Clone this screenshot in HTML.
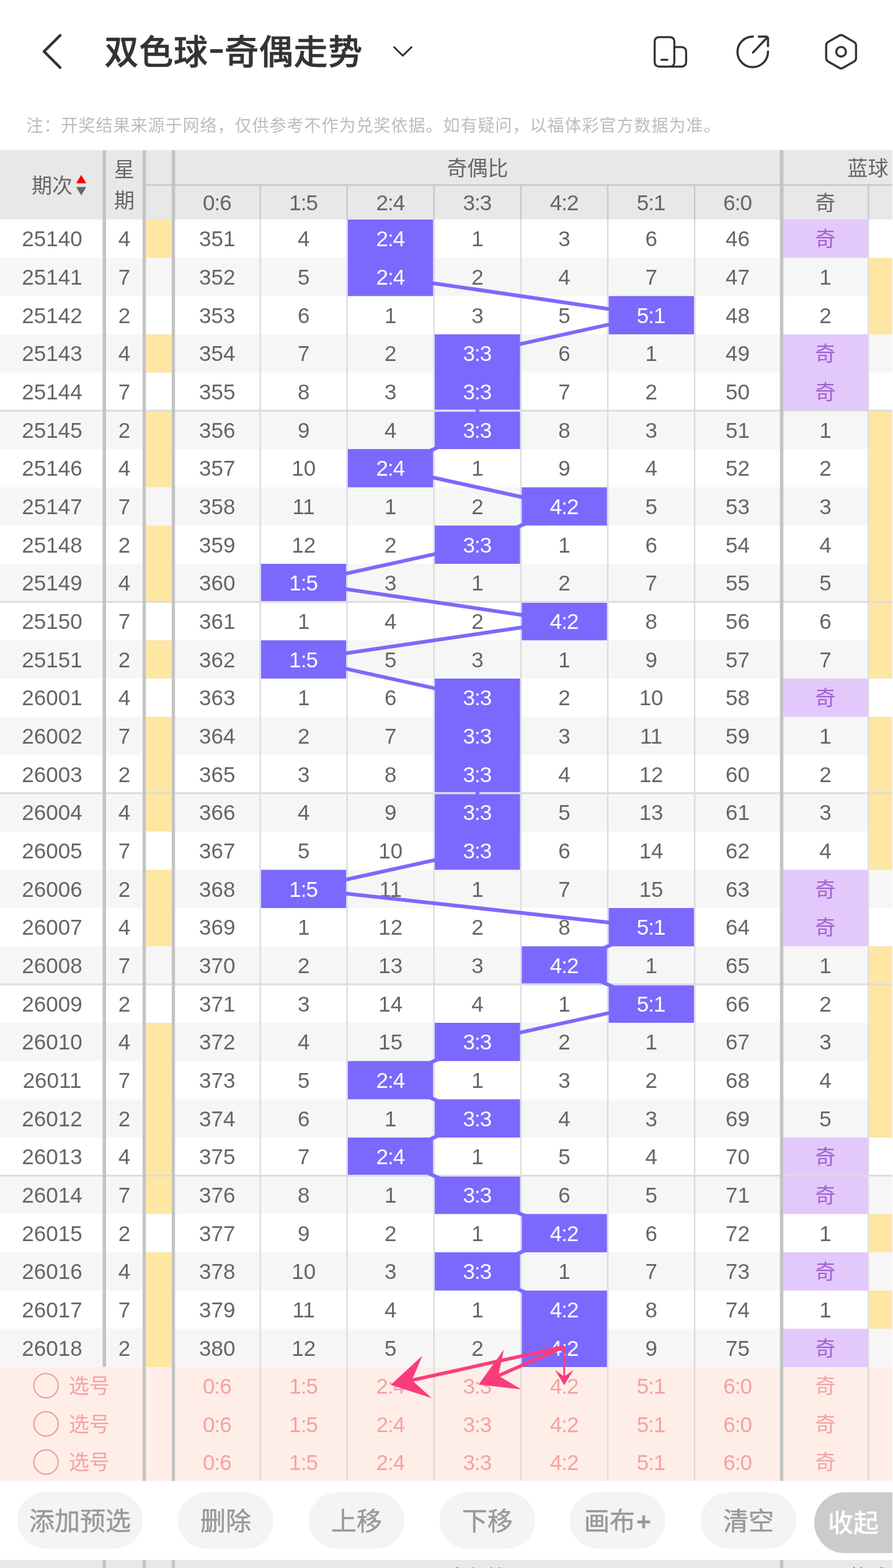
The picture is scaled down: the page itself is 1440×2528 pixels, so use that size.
<!DOCTYPE html>
<html lang="zh-CN">
<head>
<meta charset="utf-8">
<title>双色球-奇偶走势</title>
<style>
html,body{margin:0;padding:0;background:#fff}
body{width:1440px;height:2528px;overflow:hidden;position:relative;font-family:"Liberation Sans","Noto Sans CJK SC",sans-serif}
#page{position:absolute;left:0;top:0;width:1440px;height:2528px;overflow:hidden;background:#fff}
.b{position:absolute}
.ov{position:absolute;left:0;top:0;pointer-events:none}
.t{position:absolute;box-sizing:border-box;padding-top:0;display:flex;align-items:center;justify-content:center;white-space:nowrap;color:#666;font-size:33px;line-height:1}
.n{font-size:35px}
.c{padding-top:2px}
.r{letter-spacing:-1px;text-indent:-1px}
.h{color:#666}
.w{color:#fff;z-index:3}
.tr{z-index:2}
.ar{z-index:4}
.o{color:#a162d0}
.s{color:#f3a3a3}
.btn{background:#f3f4f5;border-radius:46px;color:#999;font-size:41px;padding-top:4px;-webkit-text-stroke:0.5px #999}
.btn2{background:#cbcbcb;border-radius:49px;color:#fff;font-size:41px;font-weight:500;justify-content:flex-start;padding-top:2px}
#title{position:absolute;left:168.5px;top:43px;letter-spacing:0.8px;-webkit-text-stroke:0.6px #333;height:82px;line-height:82px;font-size:55px;font-weight:500;color:#333;white-space:nowrap}
#note{position:absolute;left:42.5px;top:183px;height:40px;line-height:40px;font-size:27px;letter-spacing:1px;color:#bdbdbd;white-space:nowrap}
</style>
</head>
<body>
<div id="page">
<svg class="ov" width="1440" height="170" viewBox="0 0 1440 170" fill="none" stroke="#333" stroke-linecap="round" stroke-linejoin="round">
<path d="M97 57 L71 83 L97 109" stroke-width="4.4"/>
<path d="M635.5 76 L649.5 89.8 L663.5 76" stroke-width="3"/>
<rect x="1055.7" y="59.8" width="31.7" height="47.6" rx="6.8" stroke-width="3.3"/>
<path d="M1087.4 75.8 H1099.2 a7.2 7.2 0 0 1 7.2 7.2 V100.2 a7.2 7.2 0 0 1 -7.2 7.2 H1080" stroke-width="3.3"/>
<path d="M1066.6 96.4 H1076.2" stroke-width="3.3"/>
<path d="M1214 59 A24.6 24.6 0 1 0 1238.4 83" stroke-width="3.5"/>
<path d="M1214.2 84.6 L1237 60.6 M1223.6 59 H1235.4 a3 3 0 0 1 3 3 V74.4" stroke-width="3.5"/>
<path d="M1353.05 57.48 A6.50 6.50 0 0 1 1359.55 57.48 L1377.13 67.62 A6.50 6.50 0 0 1 1380.38 73.25 L1380.38 93.55 A6.50 6.50 0 0 1 1377.13 99.18 L1359.55 109.32 A6.50 6.50 0 0 1 1353.05 109.32 L1335.47 99.18 A6.50 6.50 0 0 1 1332.22 93.55 L1332.22 73.25 A6.50 6.50 0 0 1 1335.47 67.62 Z" stroke-width="3.4"/>
<circle cx="1356.3" cy="83.4" r="7.8" stroke-width="3.4"/>
</svg>
<div id="title">双色球<span style="display:inline-block;width:26px;text-align:center;font-weight:700;line-height:40px;letter-spacing:0;position:relative;top:-5px;transform:scale(1.4,0.8)">-</span>奇偶走势</div>
<div id="note">注：开奖结果来源于网络，仅供参考不作为兑奖依据。如有疑问，以福体彩官方数据为准。</div>
<svg class="ov" width="1440" height="2528" viewBox="0 0 1440 2528">
<rect x="0" y="242" width="1440" height="112" fill="#e8e8e8"/>
<rect x="0" y="415.67" width="1440" height="61.67" fill="#f6f6f6"/>
<rect x="0" y="539" width="1440" height="61.67" fill="#f6f6f6"/>
<rect x="0" y="662.33" width="1440" height="61.67" fill="#f6f6f6"/>
<rect x="0" y="785.67" width="1440" height="61.67" fill="#f6f6f6"/>
<rect x="0" y="909" width="1440" height="61.67" fill="#f6f6f6"/>
<rect x="0" y="1032.33" width="1440" height="61.67" fill="#f6f6f6"/>
<rect x="0" y="1155.67" width="1440" height="61.67" fill="#f6f6f6"/>
<rect x="0" y="1279" width="1440" height="61.67" fill="#f6f6f6"/>
<rect x="0" y="1402.33" width="1440" height="61.67" fill="#f6f6f6"/>
<rect x="0" y="1525.67" width="1440" height="61.67" fill="#f6f6f6"/>
<rect x="0" y="1649" width="1440" height="61.67" fill="#f6f6f6"/>
<rect x="0" y="1772.33" width="1440" height="61.67" fill="#f6f6f6"/>
<rect x="0" y="1895.67" width="1440" height="61.67" fill="#f6f6f6"/>
<rect x="0" y="2019" width="1440" height="61.67" fill="#f6f6f6"/>
<rect x="0" y="2142.33" width="1440" height="61.67" fill="#f6f6f6"/>
<rect x="0" y="2203.6" width="1440" height="183.9" fill="#ffeee8"/>
<rect x="235.2" y="354" width="41.8" height="61.67" fill="#fee6a3"/>
<rect x="235.2" y="539" width="41.8" height="61.67" fill="#fee6a3"/>
<rect x="235.2" y="662.33" width="41.8" height="123.33" fill="#fee6a3"/>
<rect x="235.2" y="847.33" width="41.8" height="123.33" fill="#fee6a3"/>
<rect x="235.2" y="1032.33" width="41.8" height="61.67" fill="#fee6a3"/>
<rect x="235.2" y="1155.67" width="41.8" height="185" fill="#fee6a3"/>
<rect x="235.2" y="1402.33" width="41.8" height="123.33" fill="#fee6a3"/>
<rect x="235.2" y="1649" width="41.8" height="308.33" fill="#fee6a3"/>
<rect x="235.2" y="2019" width="41.8" height="185" fill="#fee6a3"/>
<rect x="1263.2" y="354" width="135.8" height="61.67" fill="#e3c8fc"/>
<rect x="1263.2" y="539" width="135.8" height="123.33" fill="#e3c8fc"/>
<rect x="1263.2" y="1094" width="135.8" height="61.67" fill="#e3c8fc"/>
<rect x="1263.2" y="1402.33" width="135.8" height="123.33" fill="#e3c8fc"/>
<rect x="1263.2" y="1834" width="135.8" height="123.33" fill="#e3c8fc"/>
<rect x="1263.2" y="2019" width="135.8" height="61.67" fill="#e3c8fc"/>
<rect x="1263.2" y="2142.33" width="135.8" height="61.67" fill="#e3c8fc"/>
<rect x="560.92" y="354" width="137.72" height="123.33" fill="#7b69fd"/>
<rect x="560.92" y="724" width="137.72" height="61.67" fill="#7b69fd"/>
<rect x="560.92" y="1710.67" width="137.72" height="61.67" fill="#7b69fd"/>
<rect x="560.92" y="1834" width="137.72" height="61.67" fill="#7b69fd"/>
<rect x="1401.8" y="415.67" width="37.2" height="123.33" fill="#fee6a3"/>
<rect x="1401.8" y="662.33" width="37.2" height="431.67" fill="#fee6a3"/>
<rect x="1401.8" y="1155.67" width="37.2" height="246.67" fill="#fee6a3"/>
<rect x="1401.8" y="1525.67" width="37.2" height="308.33" fill="#fee6a3"/>
<rect x="1401.8" y="1957.33" width="37.2" height="61.67" fill="#fee6a3"/>
<rect x="1401.8" y="2080.67" width="37.2" height="61.67" fill="#fee6a3"/>
<rect x="981.28" y="477.33" width="137.72" height="61.67" fill="#7b69fd"/>
<rect x="981.28" y="1464" width="137.72" height="61.67" fill="#7b69fd"/>
<rect x="981.28" y="1587.33" width="137.72" height="61.67" fill="#7b69fd"/>
<rect x="701.04" y="539" width="137.72" height="185" fill="#7b69fd"/>
<rect x="701.04" y="847.33" width="137.72" height="61.67" fill="#7b69fd"/>
<rect x="701.04" y="1094" width="137.72" height="308.33" fill="#7b69fd"/>
<rect x="701.04" y="1649" width="137.72" height="61.67" fill="#7b69fd"/>
<rect x="701.04" y="1772.33" width="137.72" height="61.67" fill="#7b69fd"/>
<rect x="701.04" y="1895.67" width="137.72" height="61.67" fill="#7b69fd"/>
<rect x="701.04" y="2019" width="137.72" height="61.67" fill="#7b69fd"/>
<rect x="841.16" y="785.67" width="137.72" height="61.67" fill="#7b69fd"/>
<rect x="841.16" y="970.67" width="137.72" height="61.67" fill="#7b69fd"/>
<rect x="841.16" y="1525.67" width="137.72" height="61.67" fill="#7b69fd"/>
<rect x="841.16" y="1957.33" width="137.72" height="61.67" fill="#7b69fd"/>
<rect x="841.16" y="2080.67" width="137.72" height="123.33" fill="#7b69fd"/>
<rect x="420.8" y="909" width="137.72" height="61.67" fill="#7b69fd"/>
<rect x="420.8" y="1032.33" width="137.72" height="61.67" fill="#7b69fd"/>
<rect x="420.8" y="1402.33" width="137.72" height="61.67" fill="#7b69fd"/>
<rect x="0" y="660.63" width="1440" height="2.9" fill="#dcdcdc"/>
<rect x="701.04" y="660.63" width="137.72" height="2.9" fill="#dddaf6"/>
<rect x="701.04" y="660.63" width="137.72" height="2.9" fill="#dddaf6"/>
<rect x="0" y="968.97" width="1440" height="2.9" fill="#dcdcdc"/>
<rect x="420.8" y="968.97" width="137.72" height="2.9" fill="#dddaf6"/>
<rect x="841.16" y="968.97" width="137.72" height="2.9" fill="#dddaf6"/>
<rect x="0" y="1277.3" width="1440" height="2.9" fill="#dcdcdc"/>
<rect x="701.04" y="1277.3" width="137.72" height="2.9" fill="#dddaf6"/>
<rect x="701.04" y="1277.3" width="137.72" height="2.9" fill="#dddaf6"/>
<rect x="0" y="1585.63" width="1440" height="2.9" fill="#dcdcdc"/>
<rect x="841.16" y="1585.63" width="137.72" height="2.9" fill="#dddaf6"/>
<rect x="981.28" y="1585.63" width="137.72" height="2.9" fill="#dddaf6"/>
<rect x="0" y="1893.97" width="1440" height="2.9" fill="#dcdcdc"/>
<rect x="560.92" y="1893.97" width="137.72" height="2.9" fill="#dddaf6"/>
<rect x="701.04" y="1893.97" width="137.72" height="2.9" fill="#dddaf6"/>
<rect x="418.4" y="298.3" width="2.4" height="55.7" fill="#c9c9c9"/>
<rect x="418.4" y="354" width="2.4" height="1849.6" fill="#dcdcdc"/>
<rect x="418.4" y="2203.6" width="2.4" height="183.9" fill="#dfdad7"/>
<rect x="558.52" y="298.3" width="2.4" height="55.7" fill="#c9c9c9"/>
<rect x="558.52" y="354" width="2.4" height="1849.6" fill="#dcdcdc"/>
<rect x="558.52" y="2203.6" width="2.4" height="183.9" fill="#dfdad7"/>
<rect x="698.64" y="298.3" width="2.4" height="55.7" fill="#c9c9c9"/>
<rect x="698.64" y="354" width="2.4" height="1849.6" fill="#dcdcdc"/>
<rect x="698.64" y="2203.6" width="2.4" height="183.9" fill="#dfdad7"/>
<rect x="838.76" y="298.3" width="2.4" height="55.7" fill="#c9c9c9"/>
<rect x="838.76" y="354" width="2.4" height="1849.6" fill="#dcdcdc"/>
<rect x="838.76" y="2203.6" width="2.4" height="183.9" fill="#dfdad7"/>
<rect x="978.88" y="298.3" width="2.4" height="55.7" fill="#c9c9c9"/>
<rect x="978.88" y="354" width="2.4" height="1849.6" fill="#dcdcdc"/>
<rect x="978.88" y="2203.6" width="2.4" height="183.9" fill="#dfdad7"/>
<rect x="1119" y="298.3" width="2.4" height="55.7" fill="#c9c9c9"/>
<rect x="1119" y="354" width="2.4" height="1849.6" fill="#dcdcdc"/>
<rect x="1119" y="2203.6" width="2.4" height="183.9" fill="#dfdad7"/>
<rect x="1399.1" y="298.3" width="2.4" height="55.7" fill="#c9c9c9"/>
<rect x="1399.1" y="354" width="2.4" height="1849.6" fill="#dcdcdc"/>
<rect x="1399.1" y="2203.6" width="2.4" height="183.9" fill="#dfdad7"/>
<rect x="558.52" y="354" width="2.4" height="61.67" fill="#dddaf6"/>
<rect x="698.64" y="354" width="2.4" height="61.67" fill="#dddaf6"/>
<rect x="558.52" y="415.67" width="2.4" height="61.67" fill="#dddaf6"/>
<rect x="698.64" y="415.67" width="2.4" height="61.67" fill="#dddaf6"/>
<rect x="978.88" y="477.33" width="2.4" height="61.67" fill="#dddaf6"/>
<rect x="1119" y="477.33" width="2.4" height="61.67" fill="#dddaf6"/>
<rect x="698.64" y="539" width="2.4" height="61.67" fill="#dddaf6"/>
<rect x="838.76" y="539" width="2.4" height="61.67" fill="#dddaf6"/>
<rect x="698.64" y="600.67" width="2.4" height="61.67" fill="#dddaf6"/>
<rect x="838.76" y="600.67" width="2.4" height="61.67" fill="#dddaf6"/>
<rect x="698.64" y="662.33" width="2.4" height="61.67" fill="#dddaf6"/>
<rect x="838.76" y="662.33" width="2.4" height="61.67" fill="#dddaf6"/>
<rect x="558.52" y="724" width="2.4" height="61.67" fill="#dddaf6"/>
<rect x="698.64" y="724" width="2.4" height="61.67" fill="#dddaf6"/>
<rect x="838.76" y="785.67" width="2.4" height="61.67" fill="#dddaf6"/>
<rect x="978.88" y="785.67" width="2.4" height="61.67" fill="#dddaf6"/>
<rect x="698.64" y="847.33" width="2.4" height="61.67" fill="#dddaf6"/>
<rect x="838.76" y="847.33" width="2.4" height="61.67" fill="#dddaf6"/>
<rect x="418.4" y="909" width="2.4" height="61.67" fill="#dddaf6"/>
<rect x="558.52" y="909" width="2.4" height="61.67" fill="#dddaf6"/>
<rect x="838.76" y="970.67" width="2.4" height="61.67" fill="#dddaf6"/>
<rect x="978.88" y="970.67" width="2.4" height="61.67" fill="#dddaf6"/>
<rect x="418.4" y="1032.33" width="2.4" height="61.67" fill="#dddaf6"/>
<rect x="558.52" y="1032.33" width="2.4" height="61.67" fill="#dddaf6"/>
<rect x="698.64" y="1094" width="2.4" height="61.67" fill="#dddaf6"/>
<rect x="838.76" y="1094" width="2.4" height="61.67" fill="#dddaf6"/>
<rect x="698.64" y="1155.67" width="2.4" height="61.67" fill="#dddaf6"/>
<rect x="838.76" y="1155.67" width="2.4" height="61.67" fill="#dddaf6"/>
<rect x="698.64" y="1217.33" width="2.4" height="61.67" fill="#dddaf6"/>
<rect x="838.76" y="1217.33" width="2.4" height="61.67" fill="#dddaf6"/>
<rect x="698.64" y="1279" width="2.4" height="61.67" fill="#dddaf6"/>
<rect x="838.76" y="1279" width="2.4" height="61.67" fill="#dddaf6"/>
<rect x="698.64" y="1340.67" width="2.4" height="61.67" fill="#dddaf6"/>
<rect x="838.76" y="1340.67" width="2.4" height="61.67" fill="#dddaf6"/>
<rect x="418.4" y="1402.33" width="2.4" height="61.67" fill="#dddaf6"/>
<rect x="558.52" y="1402.33" width="2.4" height="61.67" fill="#dddaf6"/>
<rect x="978.88" y="1464" width="2.4" height="61.67" fill="#dddaf6"/>
<rect x="1119" y="1464" width="2.4" height="61.67" fill="#dddaf6"/>
<rect x="838.76" y="1525.67" width="2.4" height="61.67" fill="#dddaf6"/>
<rect x="978.88" y="1525.67" width="2.4" height="61.67" fill="#dddaf6"/>
<rect x="978.88" y="1587.33" width="2.4" height="61.67" fill="#dddaf6"/>
<rect x="1119" y="1587.33" width="2.4" height="61.67" fill="#dddaf6"/>
<rect x="698.64" y="1649" width="2.4" height="61.67" fill="#dddaf6"/>
<rect x="838.76" y="1649" width="2.4" height="61.67" fill="#dddaf6"/>
<rect x="558.52" y="1710.67" width="2.4" height="61.67" fill="#dddaf6"/>
<rect x="698.64" y="1710.67" width="2.4" height="61.67" fill="#dddaf6"/>
<rect x="698.64" y="1772.33" width="2.4" height="61.67" fill="#dddaf6"/>
<rect x="838.76" y="1772.33" width="2.4" height="61.67" fill="#dddaf6"/>
<rect x="558.52" y="1834" width="2.4" height="61.67" fill="#dddaf6"/>
<rect x="698.64" y="1834" width="2.4" height="61.67" fill="#dddaf6"/>
<rect x="698.64" y="1895.67" width="2.4" height="61.67" fill="#dddaf6"/>
<rect x="838.76" y="1895.67" width="2.4" height="61.67" fill="#dddaf6"/>
<rect x="838.76" y="1957.33" width="2.4" height="61.67" fill="#dddaf6"/>
<rect x="978.88" y="1957.33" width="2.4" height="61.67" fill="#dddaf6"/>
<rect x="698.64" y="2019" width="2.4" height="61.67" fill="#dddaf6"/>
<rect x="838.76" y="2019" width="2.4" height="61.67" fill="#dddaf6"/>
<rect x="838.76" y="2080.67" width="2.4" height="61.67" fill="#dddaf6"/>
<rect x="978.88" y="2080.67" width="2.4" height="61.67" fill="#dddaf6"/>
<rect x="838.76" y="2142.33" width="2.4" height="61.67" fill="#dddaf6"/>
<rect x="978.88" y="2142.33" width="2.4" height="61.67" fill="#dddaf6"/>
<rect x="165.5" y="242" width="5.5" height="1961.6" fill="#c3c3c3"/>
<rect x="230" y="242" width="5.2" height="2145.5" fill="#c3c3c3"/>
<rect x="277" y="242" width="5.2" height="2145.5" fill="#c3c3c3"/>
<rect x="1257.7" y="242" width="5.5" height="2145.5" fill="#c3c3c3"/>
<rect x="235.2" y="297" width="1204.8" height="2.6" fill="#c9c9c9"/>
<rect x="277" y="242" width="5.2" height="112" fill="#c3c3c3"/>
<rect x="1257.7" y="242" width="5.5" height="112" fill="#c3c3c3"/>
<rect x="0" y="2515" width="1440" height="13" fill="#e8e8e8"/>
<rect x="165.5" y="2515" width="5.5" height="13" fill="#c3c3c3"/>
<rect x="230" y="2515" width="5.2" height="13" fill="#c3c3c3"/>
<rect x="277" y="2515" width="5.2" height="13" fill="#c3c3c3"/>
<rect x="1257.7" y="2515" width="5.5" height="13" fill="#c3c3c3"/>
<circle cx="74.2" cy="2234.1" r="19.6" fill="none" stroke="#ee9d9d" stroke-width="2.2"/>
<circle cx="74.2" cy="2295.65" r="19.6" fill="none" stroke="#ee9d9d" stroke-width="2.2"/>
<circle cx="74.2" cy="2357.2" r="19.6" fill="none" stroke="#ee9d9d" stroke-width="2.2"/>
</svg>
<!-- header band -->
<!-- row stripes -->
<!-- fills -->
<!-- separators -->
<div class="t h c" style="left:282.2px;top:2514.5px;width:975.5px;height:56.3px;">奇偶比</div>
<div class="t h c" style="left:1263.2px;top:2514.5px;width:272.8px;height:56.3px;">蓝球</div>
<svg class="ov tr" width="1440" height="2528" viewBox="0 0 1440 2528">
<path d="M629.78 384.83 L629.78 446.5 L1050.14 508.17 L769.9 569.83 L769.9 631.5 L769.9 693.17 L629.78 754.83 L910.02 816.5 L769.9 878.17 L489.66 939.83 L910.02 1001.5 L489.66 1063.17 L769.9 1124.83 L769.9 1186.5 L769.9 1248.17 L769.9 1309.83 L769.9 1371.5 L489.66 1433.17 L1050.14 1494.83 L910.02 1556.5 L1050.14 1618.17 L769.9 1679.83 L629.78 1741.5 L769.9 1803.17 L629.78 1864.83 L769.9 1926.5 L910.02 1988.17 L769.9 2049.83 L910.02 2111.5 L910.02 2173.17" fill="none" stroke="#7b69fd" stroke-width="6" stroke-linejoin="round"/>
</svg>
<!-- header text -->
<div class="t h c" style="left:51px;top:242px;width:114.5px;height:112px;justify-content:flex-start">期次</div>
<svg class="b" width="18" height="34" viewBox="0 0 18 34" style="left:122.2px;top:281.8px"><path d="M9 0 L17.2 13.6 H0.8 Z" fill="#f00"/><path d="M0.8 19.6 H17.2 L9 33 Z" fill="#666"/></svg>
<div class="t h c" style="left:171px;top:242px;width:59px;height:112px;line-height:50px;flex-direction:column"><span>星</span><span>期</span></div>
<div class="t h c" style="left:282.2px;top:242px;width:975.5px;height:56.3px;">奇偶比</div>
<div class="t h c" style="left:1263.2px;top:242px;width:272.8px;height:56.3px;">蓝球</div>
<div class="t h n r" style="left:282.2px;top:298.3px;width:136.2px;height:55.7px;">0:6</div>
<div class="t h n r" style="left:420.8px;top:298.3px;width:137.72px;height:55.7px;">1:5</div>
<div class="t h n r" style="left:560.92px;top:298.3px;width:137.72px;height:55.7px;">2:4</div>
<div class="t h n r" style="left:701.04px;top:298.3px;width:137.72px;height:55.7px;">3:3</div>
<div class="t h n r" style="left:841.16px;top:298.3px;width:137.72px;height:55.7px;">4:2</div>
<div class="t h n r" style="left:981.28px;top:298.3px;width:137.72px;height:55.7px;">5:1</div>
<div class="t h n r" style="left:1121.4px;top:298.3px;width:136.3px;height:55.7px;">6:0</div>
<div class="t h c" style="left:1263.2px;top:298.3px;width:135.8px;height:55.7px;">奇</div>
<!-- body text -->
<div class="t n" style="left:0px;top:354px;width:168px;height:61.67px;">25140</div>
<div class="t n" style="left:171px;top:354px;width:59px;height:61.67px;">4</div>
<div class="t n" style="left:282.2px;top:354px;width:136.2px;height:61.67px;">351</div>
<div class="t n" style="left:420.8px;top:354px;width:137.72px;height:61.67px;">4</div>
<div class="t n w r" style="left:560.92px;top:354px;width:137.72px;height:61.67px;">2:4</div>
<div class="t n" style="left:701.04px;top:354px;width:137.72px;height:61.67px;">1</div>
<div class="t n" style="left:841.16px;top:354px;width:137.72px;height:61.67px;">3</div>
<div class="t n" style="left:981.28px;top:354px;width:137.72px;height:61.67px;">6</div>
<div class="t n" style="left:1121.4px;top:354px;width:136.3px;height:61.67px;">46</div>
<div class="t o c" style="left:1263.2px;top:354px;width:135.8px;height:61.67px;">奇</div>
<div class="t n" style="left:0px;top:415.67px;width:168px;height:61.67px;">25141</div>
<div class="t n" style="left:171px;top:415.67px;width:59px;height:61.67px;">7</div>
<div class="t n" style="left:282.2px;top:415.67px;width:136.2px;height:61.67px;">352</div>
<div class="t n" style="left:420.8px;top:415.67px;width:137.72px;height:61.67px;">5</div>
<div class="t n w r" style="left:560.92px;top:415.67px;width:137.72px;height:61.67px;">2:4</div>
<div class="t n" style="left:701.04px;top:415.67px;width:137.72px;height:61.67px;">2</div>
<div class="t n" style="left:841.16px;top:415.67px;width:137.72px;height:61.67px;">4</div>
<div class="t n" style="left:981.28px;top:415.67px;width:137.72px;height:61.67px;">7</div>
<div class="t n" style="left:1121.4px;top:415.67px;width:136.3px;height:61.67px;">47</div>
<div class="t n" style="left:1263.2px;top:415.67px;width:135.8px;height:61.67px;">1</div>
<div class="t n" style="left:0px;top:477.33px;width:168px;height:61.67px;">25142</div>
<div class="t n" style="left:171px;top:477.33px;width:59px;height:61.67px;">2</div>
<div class="t n" style="left:282.2px;top:477.33px;width:136.2px;height:61.67px;">353</div>
<div class="t n" style="left:420.8px;top:477.33px;width:137.72px;height:61.67px;">6</div>
<div class="t n" style="left:560.92px;top:477.33px;width:137.72px;height:61.67px;">1</div>
<div class="t n" style="left:701.04px;top:477.33px;width:137.72px;height:61.67px;">3</div>
<div class="t n" style="left:841.16px;top:477.33px;width:137.72px;height:61.67px;">5</div>
<div class="t n w r" style="left:981.28px;top:477.33px;width:137.72px;height:61.67px;">5:1</div>
<div class="t n" style="left:1121.4px;top:477.33px;width:136.3px;height:61.67px;">48</div>
<div class="t n" style="left:1263.2px;top:477.33px;width:135.8px;height:61.67px;">2</div>
<div class="t n" style="left:0px;top:539px;width:168px;height:61.67px;">25143</div>
<div class="t n" style="left:171px;top:539px;width:59px;height:61.67px;">4</div>
<div class="t n" style="left:282.2px;top:539px;width:136.2px;height:61.67px;">354</div>
<div class="t n" style="left:420.8px;top:539px;width:137.72px;height:61.67px;">7</div>
<div class="t n" style="left:560.92px;top:539px;width:137.72px;height:61.67px;">2</div>
<div class="t n w r" style="left:701.04px;top:539px;width:137.72px;height:61.67px;">3:3</div>
<div class="t n" style="left:841.16px;top:539px;width:137.72px;height:61.67px;">6</div>
<div class="t n" style="left:981.28px;top:539px;width:137.72px;height:61.67px;">1</div>
<div class="t n" style="left:1121.4px;top:539px;width:136.3px;height:61.67px;">49</div>
<div class="t o c" style="left:1263.2px;top:539px;width:135.8px;height:61.67px;">奇</div>
<div class="t n" style="left:0px;top:600.67px;width:168px;height:61.67px;">25144</div>
<div class="t n" style="left:171px;top:600.67px;width:59px;height:61.67px;">7</div>
<div class="t n" style="left:282.2px;top:600.67px;width:136.2px;height:61.67px;">355</div>
<div class="t n" style="left:420.8px;top:600.67px;width:137.72px;height:61.67px;">8</div>
<div class="t n" style="left:560.92px;top:600.67px;width:137.72px;height:61.67px;">3</div>
<div class="t n w r" style="left:701.04px;top:600.67px;width:137.72px;height:61.67px;">3:3</div>
<div class="t n" style="left:841.16px;top:600.67px;width:137.72px;height:61.67px;">7</div>
<div class="t n" style="left:981.28px;top:600.67px;width:137.72px;height:61.67px;">2</div>
<div class="t n" style="left:1121.4px;top:600.67px;width:136.3px;height:61.67px;">50</div>
<div class="t o c" style="left:1263.2px;top:600.67px;width:135.8px;height:61.67px;">奇</div>
<div class="t n" style="left:0px;top:662.33px;width:168px;height:61.67px;">25145</div>
<div class="t n" style="left:171px;top:662.33px;width:59px;height:61.67px;">2</div>
<div class="t n" style="left:282.2px;top:662.33px;width:136.2px;height:61.67px;">356</div>
<div class="t n" style="left:420.8px;top:662.33px;width:137.72px;height:61.67px;">9</div>
<div class="t n" style="left:560.92px;top:662.33px;width:137.72px;height:61.67px;">4</div>
<div class="t n w r" style="left:701.04px;top:662.33px;width:137.72px;height:61.67px;">3:3</div>
<div class="t n" style="left:841.16px;top:662.33px;width:137.72px;height:61.67px;">8</div>
<div class="t n" style="left:981.28px;top:662.33px;width:137.72px;height:61.67px;">3</div>
<div class="t n" style="left:1121.4px;top:662.33px;width:136.3px;height:61.67px;">51</div>
<div class="t n" style="left:1263.2px;top:662.33px;width:135.8px;height:61.67px;">1</div>
<div class="t n" style="left:0px;top:724px;width:168px;height:61.67px;">25146</div>
<div class="t n" style="left:171px;top:724px;width:59px;height:61.67px;">4</div>
<div class="t n" style="left:282.2px;top:724px;width:136.2px;height:61.67px;">357</div>
<div class="t n" style="left:420.8px;top:724px;width:137.72px;height:61.67px;">10</div>
<div class="t n w r" style="left:560.92px;top:724px;width:137.72px;height:61.67px;">2:4</div>
<div class="t n" style="left:701.04px;top:724px;width:137.72px;height:61.67px;">1</div>
<div class="t n" style="left:841.16px;top:724px;width:137.72px;height:61.67px;">9</div>
<div class="t n" style="left:981.28px;top:724px;width:137.72px;height:61.67px;">4</div>
<div class="t n" style="left:1121.4px;top:724px;width:136.3px;height:61.67px;">52</div>
<div class="t n" style="left:1263.2px;top:724px;width:135.8px;height:61.67px;">2</div>
<div class="t n" style="left:0px;top:785.67px;width:168px;height:61.67px;">25147</div>
<div class="t n" style="left:171px;top:785.67px;width:59px;height:61.67px;">7</div>
<div class="t n" style="left:282.2px;top:785.67px;width:136.2px;height:61.67px;">358</div>
<div class="t n" style="left:420.8px;top:785.67px;width:137.72px;height:61.67px;">11</div>
<div class="t n" style="left:560.92px;top:785.67px;width:137.72px;height:61.67px;">1</div>
<div class="t n" style="left:701.04px;top:785.67px;width:137.72px;height:61.67px;">2</div>
<div class="t n w r" style="left:841.16px;top:785.67px;width:137.72px;height:61.67px;">4:2</div>
<div class="t n" style="left:981.28px;top:785.67px;width:137.72px;height:61.67px;">5</div>
<div class="t n" style="left:1121.4px;top:785.67px;width:136.3px;height:61.67px;">53</div>
<div class="t n" style="left:1263.2px;top:785.67px;width:135.8px;height:61.67px;">3</div>
<div class="t n" style="left:0px;top:847.33px;width:168px;height:61.67px;">25148</div>
<div class="t n" style="left:171px;top:847.33px;width:59px;height:61.67px;">2</div>
<div class="t n" style="left:282.2px;top:847.33px;width:136.2px;height:61.67px;">359</div>
<div class="t n" style="left:420.8px;top:847.33px;width:137.72px;height:61.67px;">12</div>
<div class="t n" style="left:560.92px;top:847.33px;width:137.72px;height:61.67px;">2</div>
<div class="t n w r" style="left:701.04px;top:847.33px;width:137.72px;height:61.67px;">3:3</div>
<div class="t n" style="left:841.16px;top:847.33px;width:137.72px;height:61.67px;">1</div>
<div class="t n" style="left:981.28px;top:847.33px;width:137.72px;height:61.67px;">6</div>
<div class="t n" style="left:1121.4px;top:847.33px;width:136.3px;height:61.67px;">54</div>
<div class="t n" style="left:1263.2px;top:847.33px;width:135.8px;height:61.67px;">4</div>
<div class="t n" style="left:0px;top:909px;width:168px;height:61.67px;">25149</div>
<div class="t n" style="left:171px;top:909px;width:59px;height:61.67px;">4</div>
<div class="t n" style="left:282.2px;top:909px;width:136.2px;height:61.67px;">360</div>
<div class="t n w r" style="left:420.8px;top:909px;width:137.72px;height:61.67px;">1:5</div>
<div class="t n" style="left:560.92px;top:909px;width:137.72px;height:61.67px;">3</div>
<div class="t n" style="left:701.04px;top:909px;width:137.72px;height:61.67px;">1</div>
<div class="t n" style="left:841.16px;top:909px;width:137.72px;height:61.67px;">2</div>
<div class="t n" style="left:981.28px;top:909px;width:137.72px;height:61.67px;">7</div>
<div class="t n" style="left:1121.4px;top:909px;width:136.3px;height:61.67px;">55</div>
<div class="t n" style="left:1263.2px;top:909px;width:135.8px;height:61.67px;">5</div>
<div class="t n" style="left:0px;top:970.67px;width:168px;height:61.67px;">25150</div>
<div class="t n" style="left:171px;top:970.67px;width:59px;height:61.67px;">7</div>
<div class="t n" style="left:282.2px;top:970.67px;width:136.2px;height:61.67px;">361</div>
<div class="t n" style="left:420.8px;top:970.67px;width:137.72px;height:61.67px;">1</div>
<div class="t n" style="left:560.92px;top:970.67px;width:137.72px;height:61.67px;">4</div>
<div class="t n" style="left:701.04px;top:970.67px;width:137.72px;height:61.67px;">2</div>
<div class="t n w r" style="left:841.16px;top:970.67px;width:137.72px;height:61.67px;">4:2</div>
<div class="t n" style="left:981.28px;top:970.67px;width:137.72px;height:61.67px;">8</div>
<div class="t n" style="left:1121.4px;top:970.67px;width:136.3px;height:61.67px;">56</div>
<div class="t n" style="left:1263.2px;top:970.67px;width:135.8px;height:61.67px;">6</div>
<div class="t n" style="left:0px;top:1032.33px;width:168px;height:61.67px;">25151</div>
<div class="t n" style="left:171px;top:1032.33px;width:59px;height:61.67px;">2</div>
<div class="t n" style="left:282.2px;top:1032.33px;width:136.2px;height:61.67px;">362</div>
<div class="t n w r" style="left:420.8px;top:1032.33px;width:137.72px;height:61.67px;">1:5</div>
<div class="t n" style="left:560.92px;top:1032.33px;width:137.72px;height:61.67px;">5</div>
<div class="t n" style="left:701.04px;top:1032.33px;width:137.72px;height:61.67px;">3</div>
<div class="t n" style="left:841.16px;top:1032.33px;width:137.72px;height:61.67px;">1</div>
<div class="t n" style="left:981.28px;top:1032.33px;width:137.72px;height:61.67px;">9</div>
<div class="t n" style="left:1121.4px;top:1032.33px;width:136.3px;height:61.67px;">57</div>
<div class="t n" style="left:1263.2px;top:1032.33px;width:135.8px;height:61.67px;">7</div>
<div class="t n" style="left:0px;top:1094px;width:168px;height:61.67px;">26001</div>
<div class="t n" style="left:171px;top:1094px;width:59px;height:61.67px;">4</div>
<div class="t n" style="left:282.2px;top:1094px;width:136.2px;height:61.67px;">363</div>
<div class="t n" style="left:420.8px;top:1094px;width:137.72px;height:61.67px;">1</div>
<div class="t n" style="left:560.92px;top:1094px;width:137.72px;height:61.67px;">6</div>
<div class="t n w r" style="left:701.04px;top:1094px;width:137.72px;height:61.67px;">3:3</div>
<div class="t n" style="left:841.16px;top:1094px;width:137.72px;height:61.67px;">2</div>
<div class="t n" style="left:981.28px;top:1094px;width:137.72px;height:61.67px;">10</div>
<div class="t n" style="left:1121.4px;top:1094px;width:136.3px;height:61.67px;">58</div>
<div class="t o c" style="left:1263.2px;top:1094px;width:135.8px;height:61.67px;">奇</div>
<div class="t n" style="left:0px;top:1155.67px;width:168px;height:61.67px;">26002</div>
<div class="t n" style="left:171px;top:1155.67px;width:59px;height:61.67px;">7</div>
<div class="t n" style="left:282.2px;top:1155.67px;width:136.2px;height:61.67px;">364</div>
<div class="t n" style="left:420.8px;top:1155.67px;width:137.72px;height:61.67px;">2</div>
<div class="t n" style="left:560.92px;top:1155.67px;width:137.72px;height:61.67px;">7</div>
<div class="t n w r" style="left:701.04px;top:1155.67px;width:137.72px;height:61.67px;">3:3</div>
<div class="t n" style="left:841.16px;top:1155.67px;width:137.72px;height:61.67px;">3</div>
<div class="t n" style="left:981.28px;top:1155.67px;width:137.72px;height:61.67px;">11</div>
<div class="t n" style="left:1121.4px;top:1155.67px;width:136.3px;height:61.67px;">59</div>
<div class="t n" style="left:1263.2px;top:1155.67px;width:135.8px;height:61.67px;">1</div>
<div class="t n" style="left:0px;top:1217.33px;width:168px;height:61.67px;">26003</div>
<div class="t n" style="left:171px;top:1217.33px;width:59px;height:61.67px;">2</div>
<div class="t n" style="left:282.2px;top:1217.33px;width:136.2px;height:61.67px;">365</div>
<div class="t n" style="left:420.8px;top:1217.33px;width:137.72px;height:61.67px;">3</div>
<div class="t n" style="left:560.92px;top:1217.33px;width:137.72px;height:61.67px;">8</div>
<div class="t n w r" style="left:701.04px;top:1217.33px;width:137.72px;height:61.67px;">3:3</div>
<div class="t n" style="left:841.16px;top:1217.33px;width:137.72px;height:61.67px;">4</div>
<div class="t n" style="left:981.28px;top:1217.33px;width:137.72px;height:61.67px;">12</div>
<div class="t n" style="left:1121.4px;top:1217.33px;width:136.3px;height:61.67px;">60</div>
<div class="t n" style="left:1263.2px;top:1217.33px;width:135.8px;height:61.67px;">2</div>
<div class="t n" style="left:0px;top:1279px;width:168px;height:61.67px;">26004</div>
<div class="t n" style="left:171px;top:1279px;width:59px;height:61.67px;">4</div>
<div class="t n" style="left:282.2px;top:1279px;width:136.2px;height:61.67px;">366</div>
<div class="t n" style="left:420.8px;top:1279px;width:137.72px;height:61.67px;">4</div>
<div class="t n" style="left:560.92px;top:1279px;width:137.72px;height:61.67px;">9</div>
<div class="t n w r" style="left:701.04px;top:1279px;width:137.72px;height:61.67px;">3:3</div>
<div class="t n" style="left:841.16px;top:1279px;width:137.72px;height:61.67px;">5</div>
<div class="t n" style="left:981.28px;top:1279px;width:137.72px;height:61.67px;">13</div>
<div class="t n" style="left:1121.4px;top:1279px;width:136.3px;height:61.67px;">61</div>
<div class="t n" style="left:1263.2px;top:1279px;width:135.8px;height:61.67px;">3</div>
<div class="t n" style="left:0px;top:1340.67px;width:168px;height:61.67px;">26005</div>
<div class="t n" style="left:171px;top:1340.67px;width:59px;height:61.67px;">7</div>
<div class="t n" style="left:282.2px;top:1340.67px;width:136.2px;height:61.67px;">367</div>
<div class="t n" style="left:420.8px;top:1340.67px;width:137.72px;height:61.67px;">5</div>
<div class="t n" style="left:560.92px;top:1340.67px;width:137.72px;height:61.67px;">10</div>
<div class="t n w r" style="left:701.04px;top:1340.67px;width:137.72px;height:61.67px;">3:3</div>
<div class="t n" style="left:841.16px;top:1340.67px;width:137.72px;height:61.67px;">6</div>
<div class="t n" style="left:981.28px;top:1340.67px;width:137.72px;height:61.67px;">14</div>
<div class="t n" style="left:1121.4px;top:1340.67px;width:136.3px;height:61.67px;">62</div>
<div class="t n" style="left:1263.2px;top:1340.67px;width:135.8px;height:61.67px;">4</div>
<div class="t n" style="left:0px;top:1402.33px;width:168px;height:61.67px;">26006</div>
<div class="t n" style="left:171px;top:1402.33px;width:59px;height:61.67px;">2</div>
<div class="t n" style="left:282.2px;top:1402.33px;width:136.2px;height:61.67px;">368</div>
<div class="t n w r" style="left:420.8px;top:1402.33px;width:137.72px;height:61.67px;">1:5</div>
<div class="t n" style="left:560.92px;top:1402.33px;width:137.72px;height:61.67px;">11</div>
<div class="t n" style="left:701.04px;top:1402.33px;width:137.72px;height:61.67px;">1</div>
<div class="t n" style="left:841.16px;top:1402.33px;width:137.72px;height:61.67px;">7</div>
<div class="t n" style="left:981.28px;top:1402.33px;width:137.72px;height:61.67px;">15</div>
<div class="t n" style="left:1121.4px;top:1402.33px;width:136.3px;height:61.67px;">63</div>
<div class="t o c" style="left:1263.2px;top:1402.33px;width:135.8px;height:61.67px;">奇</div>
<div class="t n" style="left:0px;top:1464px;width:168px;height:61.67px;">26007</div>
<div class="t n" style="left:171px;top:1464px;width:59px;height:61.67px;">4</div>
<div class="t n" style="left:282.2px;top:1464px;width:136.2px;height:61.67px;">369</div>
<div class="t n" style="left:420.8px;top:1464px;width:137.72px;height:61.67px;">1</div>
<div class="t n" style="left:560.92px;top:1464px;width:137.72px;height:61.67px;">12</div>
<div class="t n" style="left:701.04px;top:1464px;width:137.72px;height:61.67px;">2</div>
<div class="t n" style="left:841.16px;top:1464px;width:137.72px;height:61.67px;">8</div>
<div class="t n w r" style="left:981.28px;top:1464px;width:137.72px;height:61.67px;">5:1</div>
<div class="t n" style="left:1121.4px;top:1464px;width:136.3px;height:61.67px;">64</div>
<div class="t o c" style="left:1263.2px;top:1464px;width:135.8px;height:61.67px;">奇</div>
<div class="t n" style="left:0px;top:1525.67px;width:168px;height:61.67px;">26008</div>
<div class="t n" style="left:171px;top:1525.67px;width:59px;height:61.67px;">7</div>
<div class="t n" style="left:282.2px;top:1525.67px;width:136.2px;height:61.67px;">370</div>
<div class="t n" style="left:420.8px;top:1525.67px;width:137.72px;height:61.67px;">2</div>
<div class="t n" style="left:560.92px;top:1525.67px;width:137.72px;height:61.67px;">13</div>
<div class="t n" style="left:701.04px;top:1525.67px;width:137.72px;height:61.67px;">3</div>
<div class="t n w r" style="left:841.16px;top:1525.67px;width:137.72px;height:61.67px;">4:2</div>
<div class="t n" style="left:981.28px;top:1525.67px;width:137.72px;height:61.67px;">1</div>
<div class="t n" style="left:1121.4px;top:1525.67px;width:136.3px;height:61.67px;">65</div>
<div class="t n" style="left:1263.2px;top:1525.67px;width:135.8px;height:61.67px;">1</div>
<div class="t n" style="left:0px;top:1587.33px;width:168px;height:61.67px;">26009</div>
<div class="t n" style="left:171px;top:1587.33px;width:59px;height:61.67px;">2</div>
<div class="t n" style="left:282.2px;top:1587.33px;width:136.2px;height:61.67px;">371</div>
<div class="t n" style="left:420.8px;top:1587.33px;width:137.72px;height:61.67px;">3</div>
<div class="t n" style="left:560.92px;top:1587.33px;width:137.72px;height:61.67px;">14</div>
<div class="t n" style="left:701.04px;top:1587.33px;width:137.72px;height:61.67px;">4</div>
<div class="t n" style="left:841.16px;top:1587.33px;width:137.72px;height:61.67px;">1</div>
<div class="t n w r" style="left:981.28px;top:1587.33px;width:137.72px;height:61.67px;">5:1</div>
<div class="t n" style="left:1121.4px;top:1587.33px;width:136.3px;height:61.67px;">66</div>
<div class="t n" style="left:1263.2px;top:1587.33px;width:135.8px;height:61.67px;">2</div>
<div class="t n" style="left:0px;top:1649px;width:168px;height:61.67px;">26010</div>
<div class="t n" style="left:171px;top:1649px;width:59px;height:61.67px;">4</div>
<div class="t n" style="left:282.2px;top:1649px;width:136.2px;height:61.67px;">372</div>
<div class="t n" style="left:420.8px;top:1649px;width:137.72px;height:61.67px;">4</div>
<div class="t n" style="left:560.92px;top:1649px;width:137.72px;height:61.67px;">15</div>
<div class="t n w r" style="left:701.04px;top:1649px;width:137.72px;height:61.67px;">3:3</div>
<div class="t n" style="left:841.16px;top:1649px;width:137.72px;height:61.67px;">2</div>
<div class="t n" style="left:981.28px;top:1649px;width:137.72px;height:61.67px;">1</div>
<div class="t n" style="left:1121.4px;top:1649px;width:136.3px;height:61.67px;">67</div>
<div class="t n" style="left:1263.2px;top:1649px;width:135.8px;height:61.67px;">3</div>
<div class="t n" style="left:0px;top:1710.67px;width:168px;height:61.67px;">26011</div>
<div class="t n" style="left:171px;top:1710.67px;width:59px;height:61.67px;">7</div>
<div class="t n" style="left:282.2px;top:1710.67px;width:136.2px;height:61.67px;">373</div>
<div class="t n" style="left:420.8px;top:1710.67px;width:137.72px;height:61.67px;">5</div>
<div class="t n w r" style="left:560.92px;top:1710.67px;width:137.72px;height:61.67px;">2:4</div>
<div class="t n" style="left:701.04px;top:1710.67px;width:137.72px;height:61.67px;">1</div>
<div class="t n" style="left:841.16px;top:1710.67px;width:137.72px;height:61.67px;">3</div>
<div class="t n" style="left:981.28px;top:1710.67px;width:137.72px;height:61.67px;">2</div>
<div class="t n" style="left:1121.4px;top:1710.67px;width:136.3px;height:61.67px;">68</div>
<div class="t n" style="left:1263.2px;top:1710.67px;width:135.8px;height:61.67px;">4</div>
<div class="t n" style="left:0px;top:1772.33px;width:168px;height:61.67px;">26012</div>
<div class="t n" style="left:171px;top:1772.33px;width:59px;height:61.67px;">2</div>
<div class="t n" style="left:282.2px;top:1772.33px;width:136.2px;height:61.67px;">374</div>
<div class="t n" style="left:420.8px;top:1772.33px;width:137.72px;height:61.67px;">6</div>
<div class="t n" style="left:560.92px;top:1772.33px;width:137.72px;height:61.67px;">1</div>
<div class="t n w r" style="left:701.04px;top:1772.33px;width:137.72px;height:61.67px;">3:3</div>
<div class="t n" style="left:841.16px;top:1772.33px;width:137.72px;height:61.67px;">4</div>
<div class="t n" style="left:981.28px;top:1772.33px;width:137.72px;height:61.67px;">3</div>
<div class="t n" style="left:1121.4px;top:1772.33px;width:136.3px;height:61.67px;">69</div>
<div class="t n" style="left:1263.2px;top:1772.33px;width:135.8px;height:61.67px;">5</div>
<div class="t n" style="left:0px;top:1834px;width:168px;height:61.67px;">26013</div>
<div class="t n" style="left:171px;top:1834px;width:59px;height:61.67px;">4</div>
<div class="t n" style="left:282.2px;top:1834px;width:136.2px;height:61.67px;">375</div>
<div class="t n" style="left:420.8px;top:1834px;width:137.72px;height:61.67px;">7</div>
<div class="t n w r" style="left:560.92px;top:1834px;width:137.72px;height:61.67px;">2:4</div>
<div class="t n" style="left:701.04px;top:1834px;width:137.72px;height:61.67px;">1</div>
<div class="t n" style="left:841.16px;top:1834px;width:137.72px;height:61.67px;">5</div>
<div class="t n" style="left:981.28px;top:1834px;width:137.72px;height:61.67px;">4</div>
<div class="t n" style="left:1121.4px;top:1834px;width:136.3px;height:61.67px;">70</div>
<div class="t o c" style="left:1263.2px;top:1834px;width:135.8px;height:61.67px;">奇</div>
<div class="t n" style="left:0px;top:1895.67px;width:168px;height:61.67px;">26014</div>
<div class="t n" style="left:171px;top:1895.67px;width:59px;height:61.67px;">7</div>
<div class="t n" style="left:282.2px;top:1895.67px;width:136.2px;height:61.67px;">376</div>
<div class="t n" style="left:420.8px;top:1895.67px;width:137.72px;height:61.67px;">8</div>
<div class="t n" style="left:560.92px;top:1895.67px;width:137.72px;height:61.67px;">1</div>
<div class="t n w r" style="left:701.04px;top:1895.67px;width:137.72px;height:61.67px;">3:3</div>
<div class="t n" style="left:841.16px;top:1895.67px;width:137.72px;height:61.67px;">6</div>
<div class="t n" style="left:981.28px;top:1895.67px;width:137.72px;height:61.67px;">5</div>
<div class="t n" style="left:1121.4px;top:1895.67px;width:136.3px;height:61.67px;">71</div>
<div class="t o c" style="left:1263.2px;top:1895.67px;width:135.8px;height:61.67px;">奇</div>
<div class="t n" style="left:0px;top:1957.33px;width:168px;height:61.67px;">26015</div>
<div class="t n" style="left:171px;top:1957.33px;width:59px;height:61.67px;">2</div>
<div class="t n" style="left:282.2px;top:1957.33px;width:136.2px;height:61.67px;">377</div>
<div class="t n" style="left:420.8px;top:1957.33px;width:137.72px;height:61.67px;">9</div>
<div class="t n" style="left:560.92px;top:1957.33px;width:137.72px;height:61.67px;">2</div>
<div class="t n" style="left:701.04px;top:1957.33px;width:137.72px;height:61.67px;">1</div>
<div class="t n w r" style="left:841.16px;top:1957.33px;width:137.72px;height:61.67px;">4:2</div>
<div class="t n" style="left:981.28px;top:1957.33px;width:137.72px;height:61.67px;">6</div>
<div class="t n" style="left:1121.4px;top:1957.33px;width:136.3px;height:61.67px;">72</div>
<div class="t n" style="left:1263.2px;top:1957.33px;width:135.8px;height:61.67px;">1</div>
<div class="t n" style="left:0px;top:2019px;width:168px;height:61.67px;">26016</div>
<div class="t n" style="left:171px;top:2019px;width:59px;height:61.67px;">4</div>
<div class="t n" style="left:282.2px;top:2019px;width:136.2px;height:61.67px;">378</div>
<div class="t n" style="left:420.8px;top:2019px;width:137.72px;height:61.67px;">10</div>
<div class="t n" style="left:560.92px;top:2019px;width:137.72px;height:61.67px;">3</div>
<div class="t n w r" style="left:701.04px;top:2019px;width:137.72px;height:61.67px;">3:3</div>
<div class="t n" style="left:841.16px;top:2019px;width:137.72px;height:61.67px;">1</div>
<div class="t n" style="left:981.28px;top:2019px;width:137.72px;height:61.67px;">7</div>
<div class="t n" style="left:1121.4px;top:2019px;width:136.3px;height:61.67px;">73</div>
<div class="t o c" style="left:1263.2px;top:2019px;width:135.8px;height:61.67px;">奇</div>
<div class="t n" style="left:0px;top:2080.67px;width:168px;height:61.67px;">26017</div>
<div class="t n" style="left:171px;top:2080.67px;width:59px;height:61.67px;">7</div>
<div class="t n" style="left:282.2px;top:2080.67px;width:136.2px;height:61.67px;">379</div>
<div class="t n" style="left:420.8px;top:2080.67px;width:137.72px;height:61.67px;">11</div>
<div class="t n" style="left:560.92px;top:2080.67px;width:137.72px;height:61.67px;">4</div>
<div class="t n" style="left:701.04px;top:2080.67px;width:137.72px;height:61.67px;">1</div>
<div class="t n w r" style="left:841.16px;top:2080.67px;width:137.72px;height:61.67px;">4:2</div>
<div class="t n" style="left:981.28px;top:2080.67px;width:137.72px;height:61.67px;">8</div>
<div class="t n" style="left:1121.4px;top:2080.67px;width:136.3px;height:61.67px;">74</div>
<div class="t n" style="left:1263.2px;top:2080.67px;width:135.8px;height:61.67px;">1</div>
<div class="t n" style="left:0px;top:2142.33px;width:168px;height:61.67px;">26018</div>
<div class="t n" style="left:171px;top:2142.33px;width:59px;height:61.67px;">2</div>
<div class="t n" style="left:282.2px;top:2142.33px;width:136.2px;height:61.67px;">380</div>
<div class="t n" style="left:420.8px;top:2142.33px;width:137.72px;height:61.67px;">12</div>
<div class="t n" style="left:560.92px;top:2142.33px;width:137.72px;height:61.67px;">5</div>
<div class="t n" style="left:701.04px;top:2142.33px;width:137.72px;height:61.67px;">2</div>
<div class="t n w r" style="left:841.16px;top:2142.33px;width:137.72px;height:61.67px;">4:2</div>
<div class="t n" style="left:981.28px;top:2142.33px;width:137.72px;height:61.67px;">9</div>
<div class="t n" style="left:1121.4px;top:2142.33px;width:136.3px;height:61.67px;">75</div>
<div class="t o c" style="left:1263.2px;top:2142.33px;width:135.8px;height:61.67px;">奇</div>
<!-- selection rows -->
<div class="t s" style="left:109px;top:2204px;width:70px;height:61.5px;">选号</div>
<div class="t n s r" style="left:282.2px;top:2204px;width:136.2px;height:61.5px;">0:6</div>
<div class="t n s r" style="left:420.8px;top:2204px;width:137.72px;height:61.5px;">1:5</div>
<div class="t n s r" style="left:560.92px;top:2204px;width:137.72px;height:61.5px;">2:4</div>
<div class="t n s r" style="left:701.04px;top:2204px;width:137.72px;height:61.5px;">3:3</div>
<div class="t n s r" style="left:841.16px;top:2204px;width:137.72px;height:61.5px;">4:2</div>
<div class="t n s r" style="left:981.28px;top:2204px;width:137.72px;height:61.5px;">5:1</div>
<div class="t n s r" style="left:1121.4px;top:2204px;width:136.3px;height:61.5px;">6:0</div>
<div class="t s" style="left:1263.2px;top:2204px;width:135.8px;height:61.5px;">奇</div>
<div class="t s" style="left:109px;top:2265.5px;width:70px;height:61.5px;">选号</div>
<div class="t n s r" style="left:282.2px;top:2265.5px;width:136.2px;height:61.5px;">0:6</div>
<div class="t n s r" style="left:420.8px;top:2265.5px;width:137.72px;height:61.5px;">1:5</div>
<div class="t n s r" style="left:560.92px;top:2265.5px;width:137.72px;height:61.5px;">2:4</div>
<div class="t n s r" style="left:701.04px;top:2265.5px;width:137.72px;height:61.5px;">3:3</div>
<div class="t n s r" style="left:841.16px;top:2265.5px;width:137.72px;height:61.5px;">4:2</div>
<div class="t n s r" style="left:981.28px;top:2265.5px;width:137.72px;height:61.5px;">5:1</div>
<div class="t n s r" style="left:1121.4px;top:2265.5px;width:136.3px;height:61.5px;">6:0</div>
<div class="t s" style="left:1263.2px;top:2265.5px;width:135.8px;height:61.5px;">奇</div>
<div class="t s" style="left:109px;top:2327px;width:70px;height:61.5px;">选号</div>
<div class="t n s r" style="left:282.2px;top:2327px;width:136.2px;height:61.5px;">0:6</div>
<div class="t n s r" style="left:420.8px;top:2327px;width:137.72px;height:61.5px;">1:5</div>
<div class="t n s r" style="left:560.92px;top:2327px;width:137.72px;height:61.5px;">2:4</div>
<div class="t n s r" style="left:701.04px;top:2327px;width:137.72px;height:61.5px;">3:3</div>
<div class="t n s r" style="left:841.16px;top:2327px;width:137.72px;height:61.5px;">4:2</div>
<div class="t n s r" style="left:981.28px;top:2327px;width:137.72px;height:61.5px;">5:1</div>
<div class="t n s r" style="left:1121.4px;top:2327px;width:136.3px;height:61.5px;">6:0</div>
<div class="t s" style="left:1263.2px;top:2327px;width:135.8px;height:61.5px;">奇</div>
<svg class="ov ar" width="1440" height="2528" viewBox="0 0 1440 2528">
<path d="M909.8 2171.2 L664.18 2225.27" stroke="#fa3c7c" stroke-width="5.6" fill="none"/><path d="M630 2232.8 L681.07 2185.72 L664.18 2225.27 L696.12 2254.08 Z" fill="#fa3c7c"/>
<path d="M909.8 2171.2 L803.72 2218.06" stroke="#fa3c7c" stroke-width="5.6" fill="none"/><path d="M771.7 2232.2 L812.44 2175.94 L803.72 2218.06 L840.73 2239.97 Z" fill="#fa3c7c"/>
<path d="M909.8 2171.2 L909.8 2219.2" stroke="#fa3c7c" stroke-width="3" fill="none"/><path d="M909.8 2233.2 L894.8 2208.7 L909.8 2219.2 L924.8 2208.7 Z" fill="#fa3c7c"/>
</svg>
<!-- toolbar -->
<div class="t btn" style="left:28px;top:2406px;width:202px;height:90.5px;">添加预选</div>
<div class="t btn" style="left:287px;top:2406px;width:154px;height:90.5px;">删除</div>
<div class="t btn" style="left:498px;top:2406px;width:154px;height:90.5px;">上移</div>
<div class="t btn" style="left:709px;top:2406px;width:154px;height:90.5px;">下移</div>
<div class="t btn" style="left:919px;top:2406px;width:154px;height:90.5px;">画布<span style="font-weight:700;margin-left:2px;-webkit-text-stroke:0">+</span></div>
<div class="t btn" style="left:1130px;top:2406px;width:154px;height:90.5px;">清空</div>
<div class="t btn2" style="left:1313px;top:2406px;width:187px;height:98px;"><span style="margin-left:22px">收起</span></div>
<div class="b" style="left:1439px;top:0;width:1px;height:2528px;background:#fff"></div>
</div>
</body>
</html>
